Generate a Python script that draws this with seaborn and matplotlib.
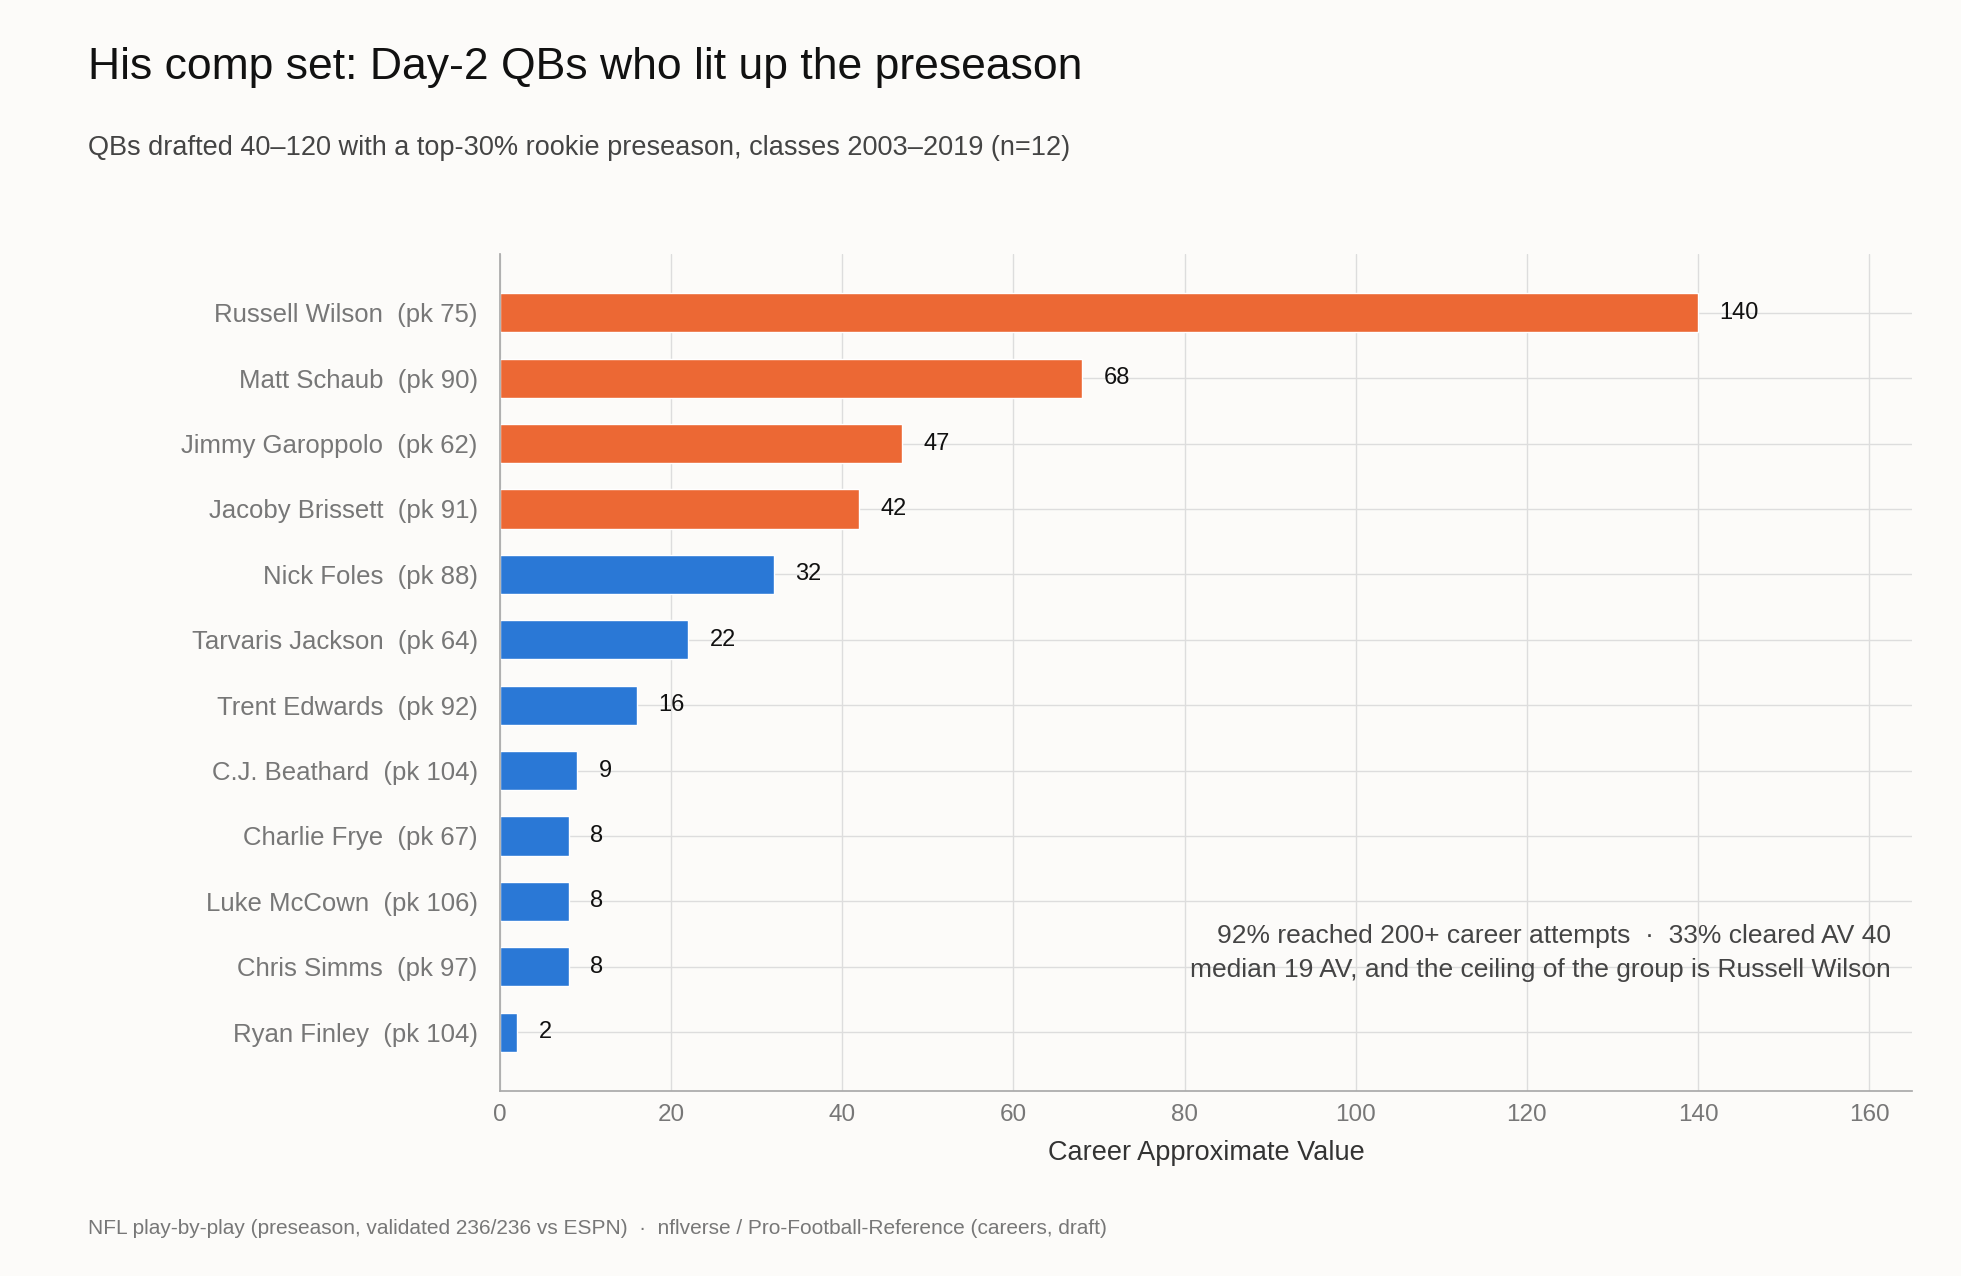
import matplotlib
matplotlib.use("Agg")
import matplotlib.pyplot as plt
import seaborn as sns
import pandas as pd

players = ["Russell Wilson", "Matt Schaub", "Jimmy Garoppolo", "Jacoby Brissett", "Nick Foles",
           "Tarvaris Jackson", "Trent Edwards", "C.J. Beathard", "Charlie Frye", "Luke McCown",
           "Chris Simms", "Ryan Finley"]
picks = [75, 90, 62, 91, 88, 64, 92, 104, 67, 106, 97, 104]
career_av = [140, 68, 47, 42, 32, 22, 16, 9, 8, 8, 8, 2]
hit = [True, True, True, True] + [False] * 8

df = pd.DataFrame({"label": [f"{p}  (pk {k})" for p, k in zip(players, picks)],
                   "av": career_av,
                   "group": ["hit" if h else "miss" for h in hit]})

bg = "#FCFBF9"
sns.set_theme(style="whitegrid")
plt.rcParams["font.family"] = ["Liberation Sans", "DejaVu Sans"]

fig = plt.figure(figsize=(19.61, 12.76), dpi=100, facecolor=bg)
ax = fig.add_axes([0.255, 0.145, 0.72, 0.656], facecolor=bg)
sns.barplot(data=df, x="av", y="label", hue="group", palette={"hit": "#EC6834", "miss": "#2A78D6"},
            dodge=False, legend=False, width=0.6, ax=ax, saturation=1)

for i, v in enumerate(career_av):
    ax.text(v + 2.5, i, str(v), va="center", ha="left", fontsize=17, color="#111111")

ax.set_xlim(0, 165)
ax.set_ylim(11.9, -0.9)
ax.set_xticks(range(0, 161, 20))
ax.set_ylabel("")
ax.set_xlabel("Career Approximate Value", fontsize=19.5, color="#333333", labelpad=10)
ax.tick_params(axis="x", labelsize=17.5, colors="#777777")
ax.tick_params(axis="y", labelsize=18.5, colors="#777777", length=0, pad=16)
ax.grid(True, color="#DDDDDD", linewidth=1)
ax.set_axisbelow(True)
for s in ["top", "right"]:
    ax.spines[s].set_visible(False)
for s in ["left", "bottom"]:
    ax.spines[s].set_color("#AAAAAA")

ax.text(0.985, 0.165, "92% reached 200+ career attempts  ·  33% cleared AV 40\nmedian 19 AV, and the ceiling of the group is Russell Wilson",
        transform=ax.transAxes, ha="right", va="center", fontsize=19, color="#444444", linespacing=1.55)

fig.text(0.045, 0.947, "His comp set: Day-2 QBs who lit up the preseason", fontsize=32, color="#111111", va="center")
fig.text(0.045, 0.884, "QBs drafted 40–120 with a top-30% rookie preseason, classes 2003–2019 (n=12)",
         fontsize=19.5, color="#444444", va="center")
fig.text(0.045, 0.037, "NFL play-by-play (preseason, validated 236/236 vs ESPN)  ·  nflverse / Pro-Football-Reference (careers, draft)",
         fontsize=15, color="#777777", va="center")

fig.savefig("out.png", dpi=100, facecolor=bg)
